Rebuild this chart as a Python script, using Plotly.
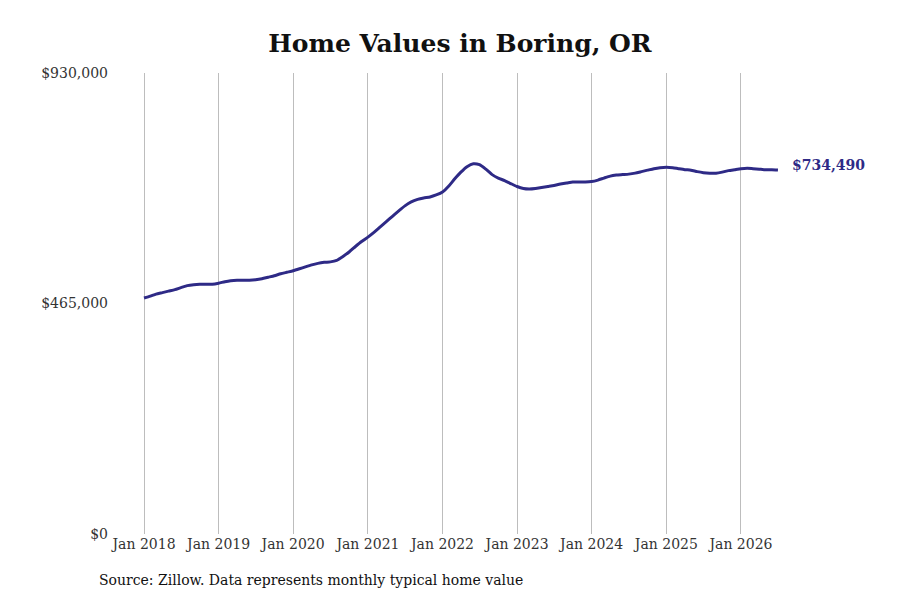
import pandas as pd
import plotly.graph_objects as go

# Monthly typical home value, Jan 2018 - Jul 2026
months = pd.date_range("2018-01-01", "2026-07-01", freq="MS")
values = [
    476000, 480000, 484000, 487000, 490000, 493000, 497000, 501000, 503000, 504000, 504000, 504000,
    506000, 509000, 511000, 512000, 512000, 512000, 513000, 515000, 518000, 521000, 525000, 528000,
    531000, 535000, 539000, 543000, 546000, 548000, 549000, 552000, 560000, 569000, 580000, 590000,
    599000, 609000, 619000, 630000, 641000, 652000, 662000, 670000, 675000, 678000, 680000, 684000,
    690000, 702000, 716000, 730000, 741000, 747000, 745000, 736000, 725000, 718000, 713000, 707000,
    701000, 697000, 696000, 697000, 699000, 701000, 703000, 706000, 708000, 710000, 710000, 710000,
    711000, 714000, 718000, 722000, 724000, 725000, 726000, 728000, 731000, 734000, 737000, 739000,
    740000, 739000, 737000, 735000, 734000, 731000, 729000, 728000, 728000, 730000, 733000, 735000,
    737000, 738000, 737000, 736000, 735000, 735000, 734490,
]

year_ticks = pd.date_range("2018-01-01", "2026-01-01", freq="YS")
year_labels = [d.strftime("Jan %Y") for d in year_ticks]
y_ticks = [0, 465000, 930000]
y_labels = ["$0", "$465,000", "$930,000"]

line_color = "#2e2a86"
font = "DejaVu Serif"

fig = go.Figure()
fig.add_trace(go.Scatter(
    x=months, y=values, mode="lines",
    line=dict(color=line_color, width=3, shape="spline", smoothing=0.6),
    hoverinfo="x+y",
))

# label at the last point
fig.add_annotation(
    x=months[-1], y=values[-1], text=f"<b>${values[-1]:,}</b>",
    showarrow=False, xanchor="left", xshift=12, yshift=5,
    font=dict(family=font, size=14, color=line_color),
)

fig.add_annotation(
    text="Source: Zillow. Data represents monthly typical home value",
    xref="paper", yref="paper", x=-0.026, y=-0.0995,
    xanchor="left", yanchor="middle", showarrow=False,
    font=dict(family=font, size=14, color="#111"),
)

fig.update_layout(
    width=900, height=600,
    margin=dict(l=115, r=110, t=73, b=66),
    plot_bgcolor="white", paper_bgcolor="white",
    showlegend=False,
    font=dict(family=font, size=14, color="#333"),
    title=dict(text="<b>Home Values in Boring, OR</b>", x=0.511, xanchor="center",
               y=0.928, yanchor="middle",
               font=dict(family=font, size=25, color="#111")),
    xaxis=dict(
        range=["2017-08-12", "2026-08-29"],
        tickvals=year_ticks, ticktext=year_labels,
        showgrid=True, gridcolor="#bdbdbd", gridwidth=1,
        showline=False, zeroline=False, ticks="",
        tickfont=dict(family=font, size=14, color="#333"),
    ),
    yaxis=dict(
        range=[0, 930000],
        tickvals=y_ticks, ticktext=y_labels,
        showgrid=False, zeroline=False, showline=False, ticks="",
        ticklabelstandoff=6,
        tickfont=dict(family=font, size=14, color="#333"),
    ),
)

fig.write_html("out.html", config={"displayModeBar": False},
               post_script="document.body.style.margin='0';")
